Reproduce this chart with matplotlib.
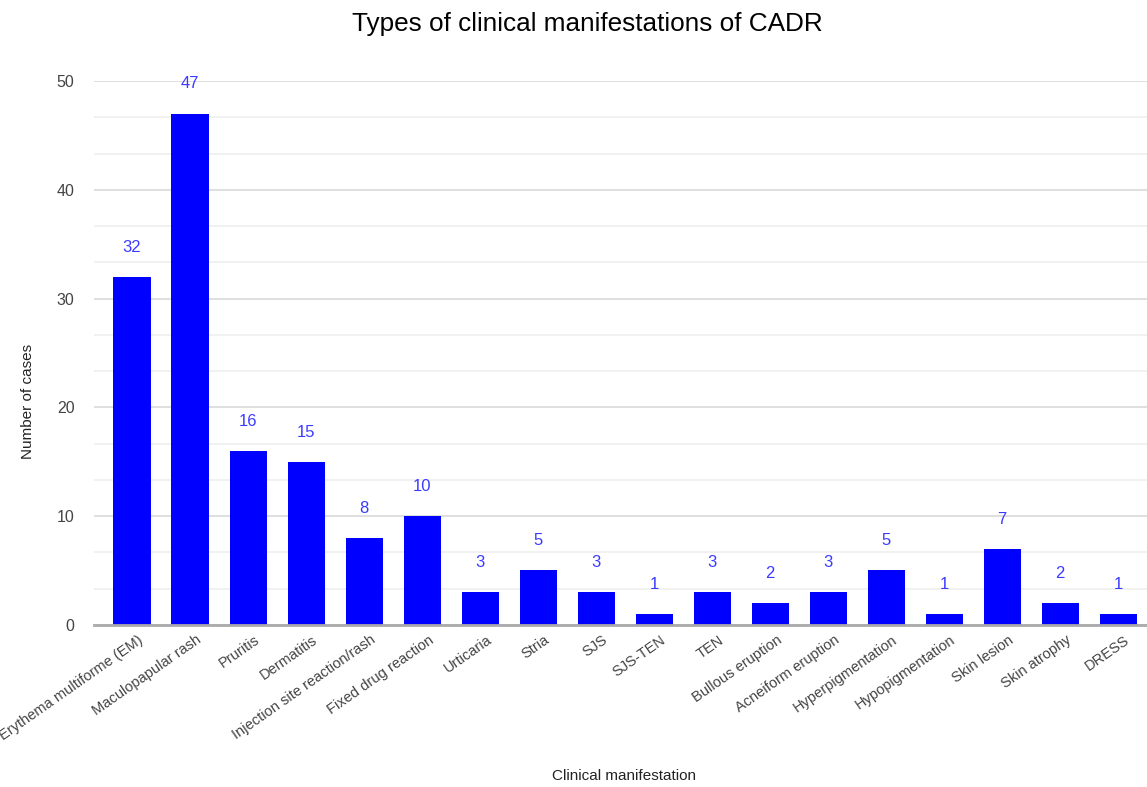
import numpy as np
import matplotlib.pyplot as plt
import matplotlib.transforms as mtransforms

categories = ['Erythema multiforme (EM)', 'Maculopapular rash', 'Pruritis', 'Dermatitis',
              'Injection site reaction/rash', 'Fixed drug reaction', 'Urticaria', 'Stria',
              'SJS', 'SJS-TEN', 'TEN', 'Bullous eruption', 'Acneiform eruption',
              'Hyperpigmentation', 'Hypopigmentation', 'Skin lesion', 'Skin atrophy', 'DRESS']
cases = [32, 47, 16, 15, 8, 10, 3, 5, 3, 1, 3, 2, 3, 5, 1, 7, 2, 1]

plt.rcParams['font.family'] = ['Liberation Sans', 'DejaVu Sans']

fig = plt.figure(figsize=(11.47, 7.87), dpi=100)
ax = fig.add_axes([0.082, 0.206, 0.926, 0.691])

x = np.arange(len(categories))
ax.bar(x, cases, width=0.64, color='#0000ff', zorder=3)

# value labels above each bar
for xi, v in zip(x, cases):
    ax.annotate(str(v), (xi, v), xytext=(0, 16), textcoords='offset points',
                ha='center', va='bottom', color='#3b3bff', fontsize=12)

ax.set_xlim(-0.655, len(categories) - 0.345)
ax.set_ylim(0, 50)
ax.set_yticks([0, 10, 20, 30, 40, 50])
ax.set_yticks(np.arange(0, 50, 10 / 3), minor=True)
ax.grid(axis='y', which='major', color='#d9d9d9', linewidth=1.2, zorder=0)
ax.grid(axis='y', which='minor', color='#efefef', linewidth=1.2, zorder=0)
ax.tick_params(axis='both', which='both', length=0, colors='#444444', labelsize=11.5)
ax.tick_params(axis='y', pad=14)

ax.set_xticks(x)
ax.set_xticklabels(categories, rotation=35, ha='right', rotation_mode='anchor', fontsize=10.5)
shift = mtransforms.ScaledTranslation(6 / 100, -3 / 100, fig.dpi_scale_trans)
for lbl in ax.get_xticklabels():
    lbl.set_transform(lbl.get_transform() + shift)

for s in ['top', 'right', 'left']:
    ax.spines[s].set_visible(False)
ax.spines['bottom'].set_color('#aaaaaa')
ax.spines['bottom'].set_linewidth(2)
ax.spines['bottom'].set_zorder(4)

fig.text(0.024, 0.49, 'Number of cases', rotation=90, ha='center', va='center',
         fontsize=11, color='#222222')
fig.text(0.544, 0.005, 'Clinical manifestation', ha='center', va='bottom', fontsize=11, color='#222222')
fig.text(0.512, 0.97, 'Types of clinical manifestations of CADR', ha='center', va='center',
         fontsize=18.8, color='#000000')

fig.savefig('out.png', dpi=100)
